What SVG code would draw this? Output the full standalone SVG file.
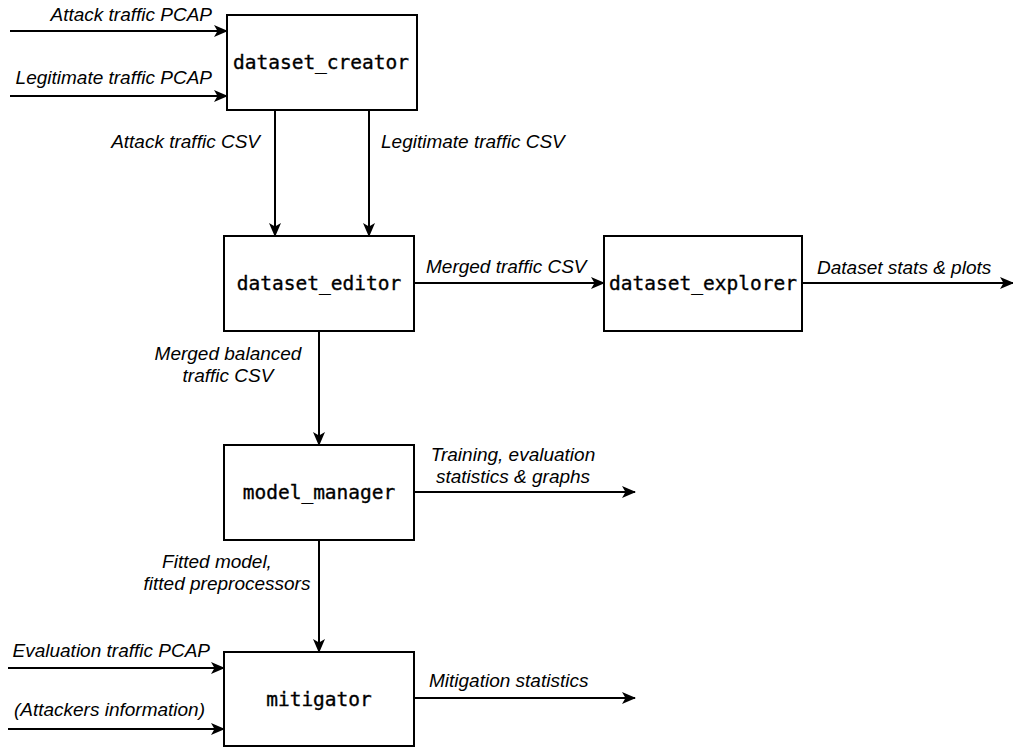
<svg xmlns="http://www.w3.org/2000/svg" width="1013" height="747" viewBox="0 0 1013 747">
<defs>
<style>
.box{fill:#fff;stroke:#000;stroke-width:2}
.nt{font-family:"DejaVu Sans Mono",monospace;font-size:19.5px;fill:#000;stroke:#000;stroke-width:0.35;text-anchor:middle;dominant-baseline:central}
.lb{font-family:"Liberation Sans",Arial,sans-serif;font-size:19px;font-style:italic;fill:#000}
.e{stroke:#000;stroke-width:2;fill:none;marker-end:url(#ah)}
</style>
<marker id="ah" markerUnits="userSpaceOnUse" markerWidth="14" markerHeight="12" refX="13" refY="6" orient="auto" viewBox="0 0 14 12">
<path d="M0,0 L14,6 L0,12 L3.5,6 z" fill="#000"/>
</marker>
</defs>
<rect width="1013" height="747" fill="#fff"/>
<g id="connectors">
<line class="e" x1="10" y1="31" x2="227" y2="31"/>
<line class="e" x1="10" y1="96" x2="227" y2="96"/>
<line class="e" x1="275" y1="110" x2="275" y2="236"/>
<line class="e" x1="369" y1="110" x2="369" y2="236"/>
<line class="e" x1="414" y1="283" x2="604" y2="283"/>
<line class="e" x1="802" y1="283" x2="1013" y2="283"/>
<line class="e" x1="319" y1="331" x2="319" y2="445"/>
<line class="e" x1="414" y1="492" x2="635" y2="492"/>
<line class="e" x1="319" y1="540" x2="319" y2="652"/>
<line class="e" x1="8" y1="668" x2="224" y2="668"/>
<line class="e" x1="8" y1="729" x2="224" y2="729"/>
<line class="e" x1="414" y1="698" x2="635" y2="698"/>
</g>
<g id="labels">
<text class="lb" x="212" y="21" text-anchor="end">Attack traffic PCAP</text>
<text class="lb" x="212" y="84" text-anchor="end">Legitimate traffic PCAP</text>
<text class="lb" x="260" y="148" text-anchor="end">Attack traffic CSV</text>
<text class="lb" x="381" y="148">Legitimate traffic CSV</text>
<text class="lb" x="426" y="273">Merged traffic CSV</text>
<text class="lb" x="817" y="274">Dataset stats &amp; plots</text>
<text class="lb" x="228" y="360" text-anchor="middle">Merged balanced</text>
<text class="lb" x="228" y="382" text-anchor="middle">traffic CSV</text>
<text class="lb" x="513" y="461" text-anchor="middle">Training, evaluation</text>
<text class="lb" x="513" y="483" text-anchor="middle">statistics &amp; graphs</text>
<text class="lb" x="217" y="568" text-anchor="middle">Fitted model,</text>
<text class="lb" x="227" y="590" text-anchor="middle">fitted preprocessors</text>
<text class="lb" x="210" y="657" text-anchor="end">Evaluation traffic PCAP</text>
<text class="lb" x="205" y="716" text-anchor="end">(Attackers information)</text>
<text class="lb" x="429" y="687">Mitigation statistics</text>
</g>
<g id="dataset_creator">
<rect class="box" x="227" y="15" width="190" height="95"/>
<text class="nt" x="321" y="62.5">dataset_creator</text>
</g>
<g id="dataset_editor">
<rect class="box" x="224" y="236" width="190" height="95"/>
<text class="nt" x="319" y="283.5">dataset_editor</text>
</g>
<g id="dataset_explorer">
<rect class="box" x="604" y="236" width="198" height="95"/>
<text class="nt" x="703" y="283.5">dataset_explorer</text>
</g>
<g id="model_manager">
<rect class="box" x="224" y="445" width="190" height="95"/>
<text class="nt" x="319" y="492.5">model_manager</text>
</g>
<g id="mitigator">
<rect class="box" x="224" y="652" width="190" height="94"/>
<text class="nt" x="319" y="699">mitigator</text>
</g>
</svg>
